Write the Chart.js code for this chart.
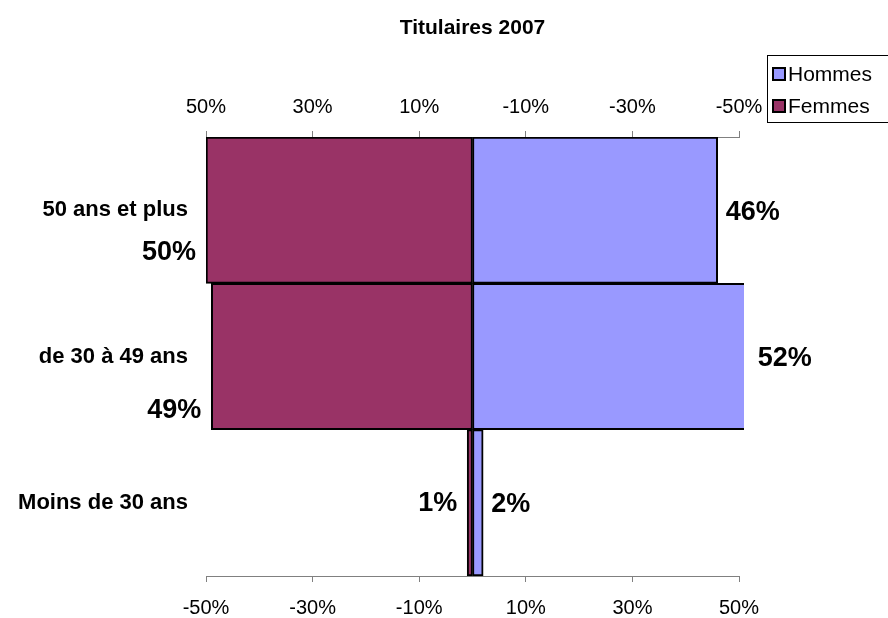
<!DOCTYPE html>
<html>
<head>
<meta charset="utf-8">
<script src="https://cdn.jsdelivr.net/npm/chart.js@4.4.0/dist/chart.umd.min.js"></script>
<style>
  html, body { margin: 0; padding: 0; background: #fff; }
</style>
</head>
<body>
<canvas id="chartTitulaires" width="888" height="618"></canvas>
<script>
// Titulaires 2007 - pyramide des ages

const categories = ['50 ans et plus', 'de 30 à 49 ans', 'Moins de 30 ans'];
const femmes = [50, 49, 1];
const hommes = [46, 52, 2];
const tickValues = [-50, -30, -10, 10, 30, 50];

const FONT = '"Liberation Sans", Arial, sans-serif';
const COL_HOMMES = '#9999FF';
const COL_FEMMES = '#993366';

// value labels next to each bar end
const valueLabels = {
  id: 'valueLabels',
  afterDatasetsDraw(chart, args, opts) {
    const ctx = chart.ctx;
    const xs = chart.scales.x;
    ctx.save();
    ctx.font = 'bold 27px ' + FONT;
    ctx.fillStyle = '#000';
    ctx.textBaseline = 'middle';
    chart.data.datasets.forEach((ds, di) => {
      const meta = chart.getDatasetMeta(di);
      meta.data.forEach((bar, i) => {
        const v = ds.data[i];
        const neg = v < 0;
        const x = xs.getPixelForValue(v);
        ctx.textAlign = neg ? 'right' : 'left';
        const dy = neg ? opts.leftShift[i] : 2;
        ctx.fillText(Math.abs(v) + '%', neg ? x - 10 : x + 8, bar.y + dy);
      });
    });
    ctx.restore();
  }
};

// boxed legend in the top right corner
const boxLegend = {
  id: 'boxLegend',
  afterDraw(chart) {
    const ctx = chart.ctx;
    const order = [1, 0];
    ctx.save();
    ctx.strokeStyle = '#000';
    ctx.lineWidth = 1;
    ctx.strokeRect(767.5, 55.5, 125, 67);
    ctx.font = '21px ' + FONT;
    ctx.textBaseline = 'middle';
    ctx.textAlign = 'left';
    order.forEach((di, k) => {
      const ds = chart.data.datasets[di];
      const y = 74 + k * 32;
      ctx.fillStyle = ds.backgroundColor;
      ctx.fillRect(773, y - 6, 12, 12);
      ctx.lineWidth = 2;
      ctx.strokeRect(773, y - 6, 12, 12);
      ctx.fillStyle = '#000';
      ctx.fillText(ds.label, 788, y + 1);
    });
    ctx.restore();
  }
};

function fixedTicks(axis) {
  axis.ticks = tickValues.map(v => ({ value: v }));
}

new Chart(document.getElementById('chartTitulaires'), {
  type: 'bar',
  data: {
    labels: categories,
    datasets: [
      {
        label: 'Femmes',
        data: femmes.map(v => -v),
        backgroundColor: COL_FEMMES,
        borderColor: '#000',
        borderWidth: 2,
        borderSkipped: false,
        categoryPercentage: 1,
        barPercentage: 1
      },
      {
        label: 'Hommes',
        data: hommes,
        backgroundColor: COL_HOMMES,
        borderColor: '#000',
        borderWidth: 2,
        borderSkipped: false,
        categoryPercentage: 1,
        barPercentage: 1,
        clip: { left: 0, top: 0, right: 5, bottom: 0 }
      }
    ]
  },
  options: {
    indexAxis: 'y',
    responsive: false,
    animation: false,
    layout: { padding: { left: 0, right: 149, top: 0, bottom: 0 } },
    plugins: {
      legend: { display: false },
      tooltip: { enabled: false },
      title: {
        display: true,
        text: 'Titulaires 2007',
        fullSize: false,
        color: '#000',
        font: { family: FONT, size: 21, weight: 'bold' },
        padding: { top: 16, bottom: 10 }
      },
      valueLabels: { leftShift: [42, 54, 1] }
    },
    scales: {
      x: {
        position: 'bottom',
        stacked: true,
        min: -50,
        max: 50,
        afterBuildTicks: fixedTicks,
        afterFit: s => { s.height = 42; },
        grid: { drawOnChartArea: false, tickLength: 6, color: '#808080' },
        border: { color: '#808080' },
        ticks: {
          color: '#000',
          font: { family: FONT, size: 20 },
          padding: 14,
          maxRotation: 0,
          autoSkip: false,
          callback: v => v + '%'
        }
      },
      x2: {
        position: 'top',
        axis: 'x',
        min: -50,
        max: 50,
        afterBuildTicks: fixedTicks,
        afterFit: s => { s.height = 137 - 51.2; },
        grid: { drawOnChartArea: false, tickLength: 6, color: '#808080' },
        border: { color: '#808080' },
        ticks: {
          color: '#000',
          font: { family: FONT, size: 20 },
          padding: 12,
          maxRotation: 0,
          autoSkip: false,
          callback: v => (-v) + '%'
        }
      },
      y: {
        stacked: true,
        afterFit: s => { s.width = 206; },
        grid: { display: false, drawTicks: false },
        border: { display: false },
        ticks: {
          color: '#000',
          font: { family: FONT, size: 22, weight: 'bold' },
          padding: 18
        }
      }
    }
  },
  plugins: [valueLabels, boxLegend]
});
</script>
</body>
</html>
